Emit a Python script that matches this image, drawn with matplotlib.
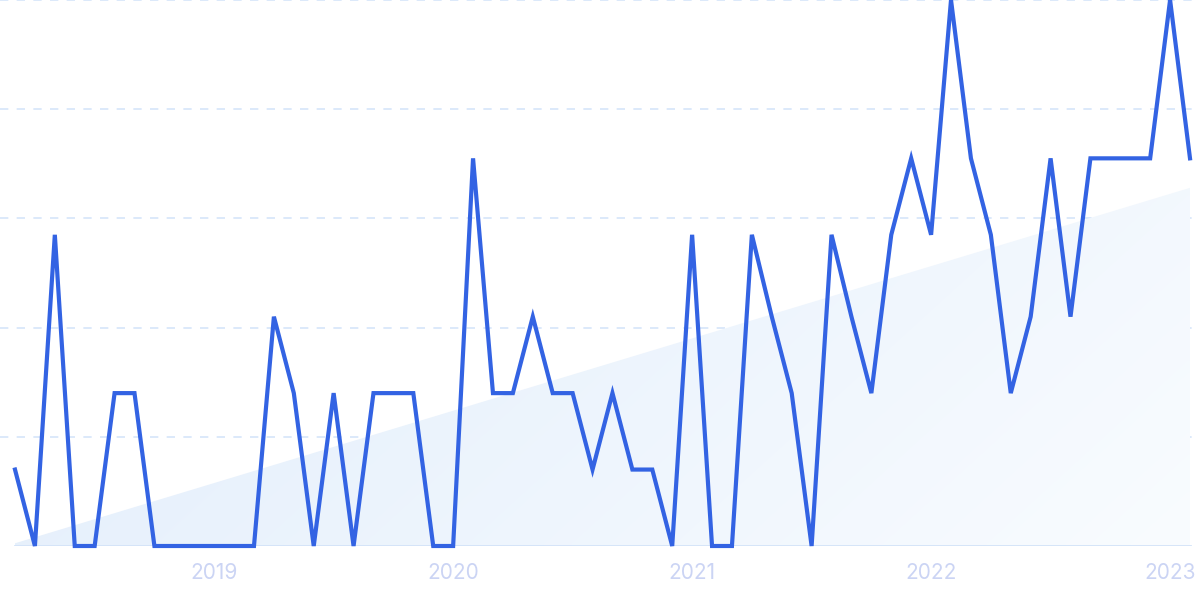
import matplotlib
matplotlib.use("Agg")
import matplotlib.pyplot as plt
import numpy as np
from matplotlib.path import Path
from matplotlib.patches import PathPatch

months = [f"{2018 + (2 + i) // 12}-{(2 + i) % 12 + 1:02d}" for i in range(60)]
values = [14, 0, 57, 0, 0, 28, 28, 0, 0, 0, 0, 0, 0, 42, 28, 0, 28, 0, 28, 28,
          28, 0, 0, 71, 28, 28, 42, 28, 28, 14, 28, 14, 14, 0, 57, 0, 0, 57, 42, 28,
          0, 57, 42, 28, 57, 71, 57, 100, 71, 57, 28, 42, 71, 42, 71, 71, 71, 71, 100, 71]
tick_labels = ["2019", "2020", "2021", "2022", "2023"]
tick_months = ["2019-01", "2020-01", "2021-01", "2022-01", "2023-01"]
trend_start, trend_end = 0.5, 65.6

W, H = 1200, 599
fig = plt.figure(figsize=(W / 100, H / 100), dpi=100)
ax = fig.add_axes([0, 53 / H, 1, 546 / H])
x = np.arange(len(values))
px = 1175 / 59
ax.set_xlim(-15 / px, 59 + 10 / px)
ax.set_ylim(0, 100)

# gradient trend area
verts = [(x[0], 0), (x[0], trend_start), (x[-1], trend_end), (x[-1], 0), (x[0], 0)]
poly = PathPatch(Path(verts), facecolor="none", edgecolor="none")
ax.add_patch(poly)
gx, gy = np.meshgrid(np.linspace(0, 1, 300), np.linspace(0, 1, 100))
t = np.clip(0.75 * gx + 0.25 * (1 - gy), 0, 1)
c0 = np.array([0.882, 0.929, 0.984])
c1 = np.array([0.976, 0.988, 1.0])
img = c0[None, None, :] * (1 - t[..., None]) + c1[None, None, :] * t[..., None]
im = ax.imshow(img, extent=[x[0], x[-1], 0, trend_end], origin="lower",
               aspect="auto", zorder=1, interpolation="bilinear")
im.set_clip_path(poly)

# gridlines
for g in [20, 40, 60, 80, 100]:
    ax.axhline(g, color="#d6e5fa", lw=1.2, ls=(0, (5, 5)), zorder=0, clip_on=False)
ax.plot([x[0], x[-1]], [0, 0], color="#d3e3f8", lw=2, zorder=2)

ax.plot(x, values, color="#3363e3", lw=3.0, zorder=3, clip_on=False,
        solid_joinstyle="miter")

ax.set_xticks([months.index(m) for m in tick_months])
ax.set_xticklabels(tick_labels, fontsize=15, color="#cbd4f4", family="Inter")
ax.tick_params(axis="x", length=0, pad=12)
ax.set_yticks([])
for s in ax.spines.values():
    s.set_visible(False)
fig.savefig("out.png", dpi=100)
